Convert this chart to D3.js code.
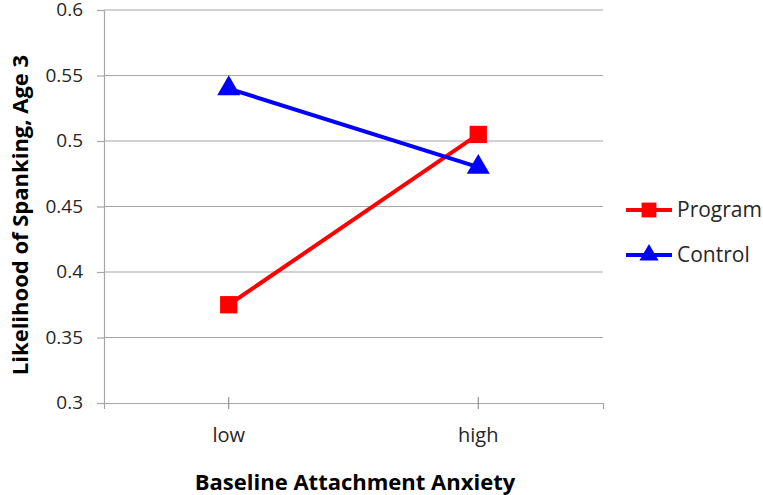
<!DOCTYPE html>
<html>
<head>
<meta charset="utf-8">
<script src="https://cdn.jsdelivr.net/npm/d3@7"></script>
<style>
  body { margin: 0; background: #fff; }
  svg { font-family: "Open Sans", sans-serif; }
</style>
</head>
<body>
<svg width="763" height="495"></svg>
<script>
// data
const categories = ["low", "high"];
const programValues = [0.375, 0.505];
const controlValues = [0.54, 0.48];
const yTicks = [0.3, 0.35, 0.4, 0.45, 0.5, 0.55, 0.6];

const series = [
  { name: "Program", values: programValues, color: "#ff0000", symbol: d3.symbolSquare },
  { name: "Control", values: controlValues, color: "#0000ff", symbol: d3.symbolTriangle }
];

const svg = d3.select("svg");
const margin = { left: 104, right: 160, top: 10, bottom: 92 };
const width = 763, height = 495;
const font = "'Open Sans', sans-serif";

const x = d3.scaleBand()
    .domain(categories)
    .range([margin.left, width - margin.right]);

const y = d3.scaleLinear()
    .domain([0.3, 0.6])
    .range([height - margin.bottom, margin.top]);

// gridlines
svg.append("g")
  .selectAll("line")
  .data(yTicks.slice(1))
  .join("line")
    .attr("x1", margin.left)
    .attr("x2", width - margin.right)
    .attr("y1", d => y(d))
    .attr("y2", d => y(d))
    .attr("stroke", "#a6a6a6")
    .attr("stroke-width", 1.2);

// y axis
const yAxis = svg.append("g")
    .attr("transform", `translate(${margin.left},0)`)
    .call(d3.axisLeft(y).tickValues(yTicks).tickFormat(d3.format("")).tickSize(7).tickSizeOuter(0).tickPadding(14));
yAxis.select(".domain").attr("stroke", "#a6a6a6").attr("stroke-width", 1.2);
yAxis.selectAll(".tick line").attr("stroke", "#a6a6a6").attr("stroke-width", 1.2);
yAxis.selectAll("text").attr("font-size", 19).attr("dy", "0.3em").attr("fill", "#262626").attr("font-family", font);

// x axis
const xAxis = svg.append("g")
    .attr("transform", `translate(0,${y(0.3)})`)
    .call(d3.axisBottom(x).tickSizeOuter(0).tickSize(6).tickPadding(19));
xAxis.select(".domain").attr("stroke", "#a6a6a6").attr("stroke-width", 1.2);
xAxis.selectAll(".tick line").attr("stroke", "#808080").attr("y1", -6);
xAxis.selectAll("text").attr("font-size", 20).attr("fill", "#262626").attr("font-family", font);

// lines + markers
const line = d3.line()
    .x((d, i) => x(categories[i]) + x.bandwidth() / 2)
    .y(d => y(d));

series.forEach(s => {
  svg.append("path")
      .attr("d", line(s.values))
      .attr("fill", "none")
      .attr("stroke", s.color)
      .attr("stroke-width", 4);

  svg.append("g")
    .selectAll("path")
    .data(s.values)
    .join("path")
      .attr("transform", (d, i) => `translate(${x(categories[i]) + x.bandwidth() / 2},${y(d)})`)
      .attr("d", d3.symbol().type(s.symbol).size(s.name == "Program" ? 300 : 230))
      .attr("fill", s.color);
});

// legend
const legend = svg.append("g");
series.forEach((s, i) => {
  const ly = 210 + i * 45;
  legend.append("line")
      .attr("x1", 626).attr("x2", 672)
      .attr("y1", ly).attr("y2", ly)
      .attr("stroke", s.color).attr("stroke-width", 4);
  legend.append("path")
      .attr("transform", `translate(649,${ly})`)
      .attr("d", d3.symbol().type(s.symbol).size(s.name == "Program" ? 220 : 160))
      .attr("fill", s.color);
  legend.append("text")
      .attr("x", 677).attr("y", ly + 7)
      .attr("font-size", 21).attr("fill", "#262626")
      .text(s.name);
});

// axis titles
svg.append("text")
    .attr("x", 355).attr("y", 490)
    .attr("text-anchor", "middle")
    .attr("font-size", 22).attr("font-weight", "bold")
    .text("Baseline Attachment Anxiety");

svg.append("text")
    .attr("transform", "translate(28,215) rotate(-90)")
    .attr("text-anchor", "middle")
    .attr("font-size", 22).attr("font-weight", "bold")
    .text("Likelihood of Spanking, Age 3");
</script>
</body>
</html>
